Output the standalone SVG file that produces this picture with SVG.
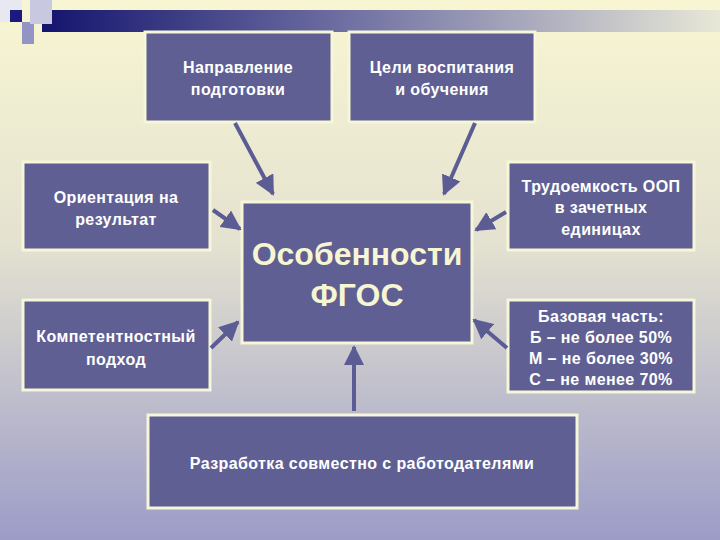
<svg xmlns="http://www.w3.org/2000/svg" width="720" height="540" viewBox="0 0 720 540">
<defs>
<linearGradient id="bg" x1="0" y1="0" x2="0" y2="1"><stop offset="0" stop-color="#f8f6d2"/><stop offset="0.45" stop-color="#e4e2d0"/><stop offset="1" stop-color="#9c9cc8"/></linearGradient>
<linearGradient id="bar" x1="0" y1="0" x2="1" y2="0"><stop offset="0" stop-color="#14146e"/><stop offset="0.5" stop-color="#7a7aa8"/><stop offset="1" stop-color="#e8e8d8"/></linearGradient>
<marker id="ah" viewBox="0 0 10 10" refX="9" refY="5" markerWidth="5" markerHeight="5" orient="auto"><path d="M0,0L10,5L0,10z" fill="#5c5c94"/></marker>
<style>
.b{fill:#5f5f94;stroke:#f6f6d8;stroke-width:3}
.t{font-family:"Liberation Sans",Arial,sans-serif;font-weight:bold;font-size:16px;letter-spacing:0.4px;fill:#ffffff;text-anchor:middle}
.c{font-family:"Liberation Sans",Arial,sans-serif;font-weight:bold;font-size:32px;fill:#f6f6d2;text-anchor:middle}
.a{stroke:#5c5c94;stroke-width:4;fill:none;marker-end:url(#ah)}
</style>
</defs>
<rect width="720" height="540" fill="url(#bg)"/>
<rect x="42" y="10" width="678" height="22" fill="url(#bar)"/>
<rect x="0" y="0" width="22" height="22" fill="#e8e8f0"/>
<rect x="22" y="22" width="12" height="22" fill="#9494c4"/>
<rect x="30" y="0" width="22" height="24" fill="#c8c8e0"/>
<rect x="10" y="10" width="12" height="12" fill="#1a1a80"/>
<g id="n1"><rect class="b" x="145" y="32" width="187" height="90"/><text class="t" x="238" y="73">Направление</text><text class="t" x="238" y="95">подготовки</text></g>
<g id="n2"><rect class="b" x="349" y="32" width="186" height="90"/><text class="t" x="442" y="73">Цели воспитания</text><text class="t" x="442" y="95">и обучения</text></g>
<g id="n3"><rect class="b" x="23" y="162" width="187" height="88"/><text class="t" x="116" y="203">Ориентация на</text><text class="t" x="116" y="225">результат</text></g>
<g id="n4"><rect class="b" x="23" y="300" width="187" height="90"/><text class="t" x="116" y="342">Компетентностный</text><text class="t" x="116" y="365">подход</text></g>
<g id="center"><rect class="b" x="242" y="202" width="230" height="141"/><text class="c" x="357" y="265">Особенности</text><text class="c" x="357" y="306">ФГОС</text></g>
<g id="n5"><rect class="b" x="508" y="162" width="186" height="88"/><text class="t" x="601" y="192">Трудоемкость ООП</text><text class="t" x="601" y="213">в зачетных</text><text class="t" x="601" y="235">единицах</text></g>
<g id="n6"><rect class="b" x="508" y="300" width="186" height="92"/><text class="t" x="601" y="322">Базовая часть:</text><text class="t" x="601" y="343">Б – не более 50%</text><text class="t" x="601" y="364">М – не более 30%</text><text class="t" x="601" y="385">С – не менее 70%</text></g>
<g id="n7"><rect class="b" x="148" y="415" width="429" height="93"/><text class="t" x="362" y="469">Разработка совместно с работодателями</text></g>
<g id="connectors">
<line class="a" x1="235" y1="123" x2="273" y2="194"/>
<line class="a" x1="475" y1="123" x2="444" y2="194"/>
<line class="a" x1="213" y1="210" x2="240" y2="229"/>
<line class="a" x1="506" y1="212" x2="476" y2="230"/>
<line class="a" x1="211" y1="348" x2="238" y2="322"/>
<line class="a" x1="507" y1="348" x2="474" y2="320"/>
<line class="a" x1="354" y1="411" x2="354" y2="347"/>
</g>
</svg>
